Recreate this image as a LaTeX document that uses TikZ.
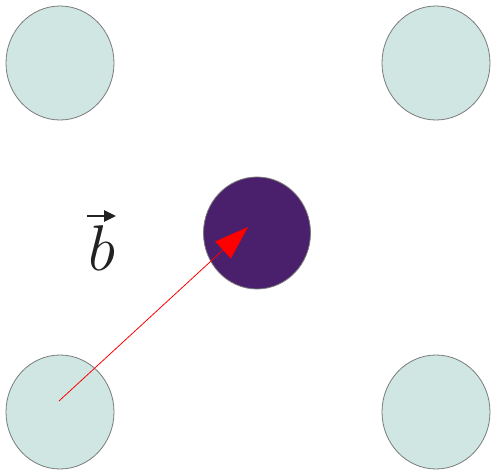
\documentclass[tikz,border=0pt]{standalone}
\usetikzlibrary{shapes.geometric,arrows.meta}
\definecolor{sitefill}{HTML}{CFE6E3}
\definecolor{atomfill}{HTML}{4A1F6B}
\definecolor{rimgray}{HTML}{7A7A7A}
\definecolor{inkdark}{HTML}{222222}
\begin{document}
\begin{tikzpicture}[
        x=1pt, y=-1pt,
        site/.style={ellipse, draw=rimgray, fill=sitefill, line width=0.8pt,
                     minimum width=108pt, minimum height=114pt, inner sep=0pt},
        atom/.style={ellipse, draw=rimgray, fill=atomfill, line width=0.8pt,
                     minimum width=107pt, minimum height=112pt, inner sep=0pt},
        vecarrow/.style={red, line width=0.8pt,
                     -{Triangle[length=34pt, width=23pt]}},
        veclbl/.style={font=\Huge, scale=2.6, inner sep=0pt, text=inkdark},
        overarrow/.style={inkdark, line width=2.7pt,
                     -{Triangle[length=12pt, width=11pt]}}]

    \useasboundingbox (0,0) rectangle (491,470);

    % --- Puntos de la red
    \node[site] (tl) at (60,63)   {};
    \node[site] (tr) at (436,63)  {};
    \node[site] (bl) at (60,412)  {};
    \node[site] (br) at (436,412) {};

    % --- Átomo central
    \node[atom] (mid) at (257,233) {};

    % --- Vector b
    \coordinate (tail) at (59,401);
    \coordinate (tip) at (248,227);
    \draw[vecarrow] (tail) -- (tip);
    \node[veclbl] (blbl) at (102,248) {$b$};
    \coordinate (barL) at (87,216);
    \coordinate (barR) at (116,216);
    \draw[overarrow] (barL) -- (barR);

\end{tikzpicture}
\end{document}
